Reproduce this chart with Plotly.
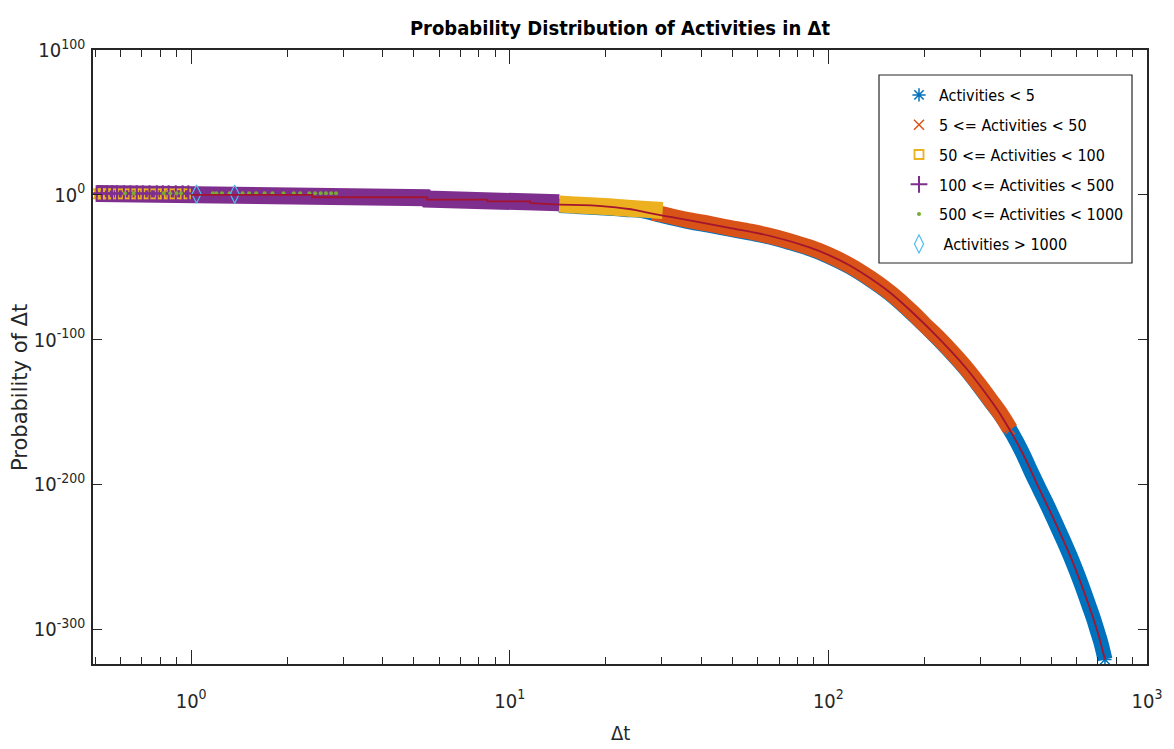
import plotly.graph_objects as go

# ---------------- data (Δt, log10 probability) ----------------
blue_t = [14.3, 16, 18, 20.5, 23, 26, 30, 36.7, 42, 48.9, 57, 65.3, 75, 87.2, 100, 116, 135, 155,
          184, 223, 270, 327, 352, 380, 406, 432, 459, 488, 517, 550, 583, 620, 658, 680, 700, 718, 738]
blue_L = [-7.4, -8.0, -8.6, -9.3, -10.1, -10.9, -14.3, -18.7, -21.0, -23.8, -26.5, -29.1, -32.8, -37.3,
          -42.5, -49.5, -58.5, -68.0, -82.5, -100.5, -120.5, -144.5, -154, -166, -178, -191, -203, -215,
          -227, -240, -253, -268, -284, -293, -302, -310, -321]

orange_t = [28, 30, 33, 36.7, 42, 48.9, 57, 65.3, 75, 87.2, 100, 116, 135, 155, 170, 184, 200, 223,
            245, 270, 298, 327, 350, 372]
orange_L = [-12.5, -13.3, -15.5, -17.7, -20.0, -22.8, -25.5, -28.3, -31.8, -36.3, -41.5, -48.5, -57.5,
            -67.0, -74.5, -81.5, -89.5, -99.5, -109.0, -119.5, -131.5, -143.5, -152.5, -162.0]

yellow_left_t = [0.50, 0.515, 0.53, 0.55, 0.57, 0.60, 0.63, 0.66, 0.69, 0.72, 0.76, 0.80, 0.83, 0.87, 0.92, 0.96]
yellow_left_L = [0.6, 0.6, 0.6, 0.6, 0.6, 0.6, 0.6, 0.6, 0.6, 0.6, 0.6, 0.6, 0.6, 0.6, 0.6, 0.6]
yellow_t = [14.3, 16, 18, 20.5, 23, 26, 30.2]
yellow_L = [-6.4, -7.0, -7.6, -8.3, -9.1, -9.9, -10.8]

purple_left_t = [0.505, 0.525, 0.545, 0.565, 0.585, 0.615, 0.645, 0.675, 0.705, 0.74, 0.78, 0.815, 0.85, 0.895, 0.94, 0.98]
purple_left_L = [0.8, 0.8, 0.8, 0.8, 0.8, 0.8, 0.8, 0.8, 0.8, 0.8, 0.8, 0.8, 0.8, 0.8, 0.8, 0.8]
purple_t = [1.0, 1.2, 1.45, 1.75, 2.1, 2.5, 3.05, 3.1, 3.6, 4.2, 4.8, 5.45, 5.5, 6.3, 7.2, 8.1, 8.95,
            9.0, 10.0, 11.0, 11.95, 12.0, 13.1, 14.3]
purple_L = [0.8, 0.8, 0.8, 0.8, 0.8, 0.8, 0.8, -2.0, -2.0, -2.0, -2.0, -2.0, -3.0, -3.0, -3.0, -3.0, -3.0,
            -3.0, -3.0, -3.0, -3.0, -5.5, -5.5, -5.5]

green_t = [0.62, 0.66, 0.82, 0.86, 0.90, 0.93, 1.17, 1.20, 1.25, 1.32, 1.45, 1.52, 1.60, 1.70, 1.80,
           1.95, 2.10, 2.20, 2.35, 2.45, 2.55, 2.65, 2.75, 2.85]
green_L = [1.0, 1.0, 1.0, 1.0, 1.0, 1.0, 1.0, 1.0, 1.0, 1.0, 1.0, 1.0, 1.0, 1.0, 1.0,
           1.0, 1.0, 1.0, 1.0, 1.0, 1.0, 1.0, 1.0, 1.0]

cyan_t = [1.04, 1.37]
cyan_L = [0.5, 0.5]

fit_step_t = [1.0, 2.4, 2.4, 5.5, 5.5, 8.5, 8.5, 11.6, 11.6, 14.3]
fit_step_L = [0, 0, -1.7, -1.7, -3.4, -3.4, -4.6, -4.6, -5.8, -6.8]
fit_t = [14.3, 19, 24, 27.5, 36.7, 48.9, 65.3, 87.2, 100, 116, 135, 155, 184, 223, 270, 327, 352, 406,
         459, 517, 583, 658, 700, 738]
fit_L = [-6.8, -7.6, -10.0, -12.7, -17.7, -22.8, -28.3, -36.3, -41.5, -48.5, -57.5, -67.0, -81.5, -99.5,
         -119.5, -143.5, -154, -178, -203, -227, -253, -284, -302, -321]

legend_names = ["Activities < 5", "5 <= Activities < 50", "50 <= Activities < 100",
                "100 <= Activities < 500", "500 <= Activities < 1000", " Activities > 1000"]

x_tick_vals = [1, 10, 100, 1000]
x_tick_text = ["10<sup>0</sup>", "10<sup>1</sup>", "10<sup>2</sup>", "10<sup>3</sup>"]
y_tick_vals = [100, 0, -100, -200, -300]
y_tick_text = ["10<sup>100</sup>", "10<sup>0</sup>", "10<sup>-100</sup>", "10<sup>-200</sup>", "10<sup>-300</sup>"]

# ---------------- style ----------------
BLUE, ORANGE, YELLOW = "#0072BD", "#D95319", "#EDB120"
PURPLE, GREEN, CYAN, DRED = "#7E2F8E", "#77AC30", "#4DBEEE", "#A2142F"
COND = "DejaVu Sans Condensed, Liberation Sans Narrow, Roboto Condensed, DejaVu Sans, sans-serif"
AX = "#262626"

fig = go.Figure()


def band(t, L, color, w, shape="linear"):
    fig.add_trace(go.Scatter(x=t, y=L, mode="lines", line=dict(color=color, width=w, shape=shape),
                             showlegend=False, hoverinfo="skip"))


def marks(t, L, name, color, symbol, size, lw, rank):
    fig.add_trace(go.Scatter(x=t, y=L, mode="markers", name=name, legendgroup="g%d" % rank,
                             legendrank=rank,
                             marker=dict(symbol=symbol, size=size, color=color,
                                         line=dict(color=color, width=lw))))


band(blue_t, blue_L, BLUE, 15, "spline")
marks(blue_t, blue_L, legend_names[0], BLUE, "asterisk-open", 11, 1.5, 1)
band(orange_t, orange_L, ORANGE, 16, "spline")
marks(orange_t, orange_L, legend_names[1], ORANGE, "x-thin-open", 10, 1.5, 2)
band(purple_left_t + purple_t, purple_left_L + purple_L, PURPLE, 17)
band(yellow_t, yellow_L, YELLOW, 17, "spline")
marks(yellow_left_t + yellow_t[1:-1], yellow_left_L + yellow_L[1:-1], legend_names[2], YELLOW,
      "square-open", 9, 1.8, 3)
marks(purple_left_t, purple_left_L, legend_names[3], PURPLE, "cross-thin-open", 12, 2, 4)
marks(green_t, green_L, legend_names[4], GREEN, "circle", 4, 0, 5)
marks(cyan_t, cyan_L, legend_names[5], CYAN, "diamond-tall-open", 13, 1.2, 6)
fig.add_trace(go.Scatter(x=fit_step_t, y=fit_step_L, mode="lines", line=dict(color=DRED, width=1.8),
                         showlegend=False, hoverinfo="skip"))
fig.add_trace(go.Scatter(x=fit_t, y=fit_L, mode="lines", line=dict(color=DRED, width=1.8, shape="spline"),
                         showlegend=False, hoverinfo="skip"))

minor_vals = [m * 10 ** d for d in (-1, 0, 1, 2) for m in range(2, 10)]

# reference pixel geometry (page has an 8px body margin)
OFF = 8
W, H = 1174 - OFF, 749 - OFF
PL, PR, PT, PB = 93, 1147, 50, 664
pw, ph = PR - PL, PB - PT


def px(x):
    return (x - PL) / pw


def py(y):
    return (PB - y) / ph


fig.update_layout(
    width=W, height=H, margin=dict(l=PL - OFF, r=W - (PR - OFF), t=PT - OFF, b=H - (PB - OFF)),
    paper_bgcolor="white", plot_bgcolor="white",
    font=dict(family=COND, color=AX, size=16),
    title=dict(text="<b>Probability Distribution of Activities in Δt</b>", x=0.5, xref="paper",
               y=1 - (28 - OFF) / H, yanchor="middle", font=dict(family=COND, size=20, color="#000000")),
    showlegend=True,
    legend=dict(x=px(899), y=py(78), xanchor="left", yanchor="top",
                bgcolor="rgba(0,0,0,0)", borderwidth=0, tracegroupgap=6,
                font=dict(family=COND, size=16, color="#000000")),
    xaxis=dict(type="log", range=[-0.308, 3.0], showline=True, linecolor=AX, linewidth=1.5, mirror="ticks",
               ticks="inside", ticklen=14, tickwidth=1.2, tickcolor=AX, showgrid=False, zeroline=False,
               tickmode="array", tickvals=x_tick_vals, ticktext=x_tick_text, ticklabelstandoff=18,
               tickfont=dict(size=20),
               minor=dict(ticks="inside", ticklen=7, tickwidth=1.2, tickcolor=AX, tickmode="array",
                          tickvals=minor_vals, showgrid=False)),
    yaxis=dict(range=[-324.1, 100], showline=True, linecolor=AX, linewidth=1.5, mirror="ticks",
               ticks="inside", ticklen=9, tickwidth=1.2, tickcolor=AX, showgrid=False, zeroline=False,
               tickmode="array", tickvals=y_tick_vals, ticktext=y_tick_text, ticklabelstandoff=2,
               tickfont=dict(size=20)),
    shapes=[dict(type="rect", xref="paper", yref="paper",
                 x0=px(879), x1=px(1132), y0=py(263), y1=py(75),
                 line=dict(color=AX, width=1.2), fillcolor="rgba(0,0,0,0)", layer="above")],
    annotations=[
        dict(text="Probability of Δt", xref="paper", yref="paper", x=px(20), y=py(388),
             textangle=-90, showarrow=False, xanchor="center", yanchor="middle",
             font=dict(family="DejaVu Sans, sans-serif", size=21, color=AX)),
        dict(text="Δt", xref="paper", yref="paper", x=px(620), y=py(733),
             showarrow=False, xanchor="center", yanchor="middle", font=dict(family=COND, size=20, color=AX)),
    ],
)

fig.write_html("out.html")
